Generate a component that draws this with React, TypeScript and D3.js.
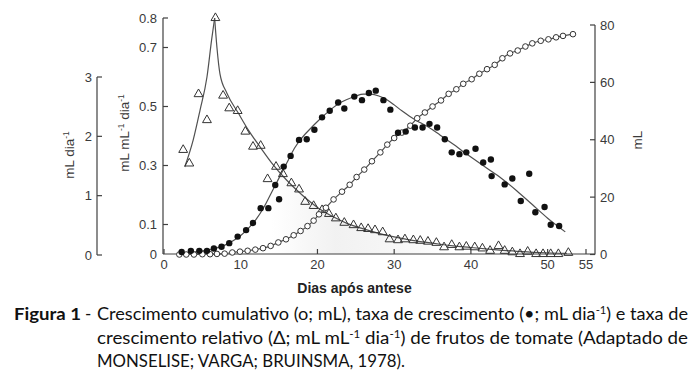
import React from "react";
import * as d3 from "d3";

// ---- Data ----
// Cumulative growth (open circles, mL, right axis)
const cumDays = [2.0, 2.9, 3.9, 5.0, 6.0, 6.9, 7.9, 8.9, 9.9, 10.9, 11.9, 12.9, 13.9, 14.9, 15.9, 16.9, 17.8, 18.7, 19.5, 20.2, 21.1, 22.1, 23.2, 24.2, 25.1, 26.1, 27.1, 28.2, 29.1, 30.0, 31.0, 32.1, 33.0, 34.0, 35.0, 36.1, 37.1, 38.1, 39.0, 40.1, 41.1, 42.1, 43.1, 44.1, 45.1, 46.1, 47.1, 48.0, 49.1, 50.1, 51.1, 52.0, 53.3];
const cumValues = [0, 0, 0, 0.1, 0.1, 0.2, 0.3, 0.7, 1.0, 1.3, 1.7, 2.2, 3.0, 4.2, 5.3, 6.7, 8.2, 9.9, 11.8, 14.0, 16.3, 19.2, 21.9, 24.3, 27.0, 29.6, 32.5, 35.6, 38.3, 40.6, 42.5, 44.9, 47.5, 49.5, 51.6, 53.7, 56.0, 57.6, 59.5, 61.1, 63.0, 64.6, 66.1, 68.4, 70.1, 71.1, 72.5, 73.6, 74.5, 75.0, 75.7, 76.2, 76.8];

// Growth rate (filled circles, mL dia-1)
const rateDays = [2.3, 3.5, 4.6, 5.6, 6.5, 7.5, 8.5, 9.6, 10.7, 11.6, 12.6, 13.6, 14.5, 15.0, 15.6, 16.5, 17.6, 18.6, 19.6, 20.6, 21.6, 22.7, 23.5, 24.8, 25.8, 26.7, 27.6, 28.6, 29.5, 30.5, 31.5, 32.7, 33.7, 34.6, 35.6, 36.6, 37.5, 38.5, 39.4, 40.6, 41.6, 42.6, 42.7, 44.4, 45.4, 46.5, 47.6, 48.4, 49.6, 50.4, 51.5];
const rateValues = [0.05, 0.07, 0.07, 0.07, 0.11, 0.14, 0.2, 0.31, 0.42, 0.54, 0.79, 0.79, 1.18, 0.94, 1.49, 1.67, 1.94, 1.95, 2.11, 2.32, 2.43, 2.57, 2.47, 2.67, 2.61, 2.73, 2.77, 2.61, 2.45, 2.06, 2.08, 2.15, 2.15, 2.21, 2.15, 1.95, 1.73, 1.7, 1.73, 1.79, 1.56, 1.61, 1.33, 1.19, 1.29, 0.91, 1.37, 0.72, 0.81, 0.51, 0.49];
// fitted curve for growth rate
const rateFitDays = [2.3, 4, 6, 8, 9, 10, 11, 12, 13, 14, 15, 16, 17, 18, 19, 20, 21, 22, 23, 24, 25, 26, 27, 28, 29, 30, 31, 32, 33, 34, 35, 36, 37, 38, 39, 40, 42, 44, 46, 48, 50, 52.3];
const rateFitValues = [0.03, 0.05, 0.09, 0.17, 0.24, 0.33, 0.45, 0.6, 0.8, 1.05, 1.3, 1.55, 1.8, 1.98, 2.12, 2.25, 2.37, 2.48, 2.57, 2.63, 2.68, 2.71, 2.71, 2.68, 2.62, 2.53, 2.43, 2.34, 2.26, 2.19, 2.11, 2.02, 1.93, 1.84, 1.74, 1.65, 1.47, 1.29, 1.08, 0.85, 0.62, 0.39];

// Relative growth rate (triangles, mL mL-1 dia-1)
const relDays = [2.5, 3.3, 4.5, 5.6, 6.7, 7.7, 8.5, 9.6, 10.6, 11.6, 12.6, 13.5, 14.6, 15.5, 16.6, 17.6, 18.4, 19.5, 20.6, 21.5, 22.4, 23.5, 24.7, 25.7, 26.6, 27.5, 28.5, 29.4, 30.5, 31.4, 32.5, 33.4, 34.4, 35.5, 36.5, 37.5, 38.5, 39.4, 40.5, 41.5, 42.5, 43.6, 44.4, 45.4, 46.4, 47.4, 48.5, 49.4, 50.4, 51.4, 52.7];
const relValues = [0.353, 0.307, 0.542, 0.454, 0.8, 0.537, 0.494, 0.485, 0.415, 0.364, 0.367, 0.254, 0.296, 0.271, 0.24, 0.219, 0.177, 0.163, 0.149, 0.136, 0.121, 0.106, 0.098, 0.088, 0.085, 0.081, 0.074, 0.05, 0.047, 0.05, 0.047, 0.045, 0.042, 0.038, 0.023, 0.031, 0.023, 0.025, 0.023, 0.019, 0.011, 0.027, 0.011, 0.006, 0.0, 0.008, 0.0, 0.0, 0.0, 0.0, 0.004];
// fitted curve (rising / falling branch)
const relRiseDays = [2.7, 3.8, 4.7, 5.6, 6.2, 6.6];
const relRiseValues = [0.295, 0.386, 0.488, 0.6, 0.725, 0.8];
const relFallDays = [6.6, 6.9, 7.3, 8.2, 9.7, 11, 12.6, 14, 16, 18, 20, 22, 24, 26, 28, 30, 32, 34, 36, 38, 40, 43, 46, 49, 52.5];
const relFallValues = [0.8, 0.7, 0.61, 0.545, 0.477, 0.42, 0.36, 0.31, 0.25, 0.2, 0.158, 0.127, 0.102, 0.085, 0.07, 0.058, 0.048, 0.04, 0.033, 0.027, 0.022, 0.015, 0.009, 0.005, 0.002];

// Tick labels
const xTicks = [0, 10, 20, 30, 40, 50, 55];
const rateTicks = [0, 1, 2, 3];
const relTicks = [0.1, 0.3, 0.5, 0.7, 0.8];
const relTickLabels = ["0.1", "0.3", "0.5", "0.7", "0.8"];
const cumTicks = [0, 20, 40, 60, 80];

const AX = "#404040";
const TXT = "#3a3a3a";
const FONT = "'Liberation Sans', Arial, Helvetica, sans-serif";
const CAP = "Lato, 'Open Sans', sans-serif";

export default function App() {
  const x = d3.scaleLinear().domain([0, 55]).range([164, 586]);
  const yCum = d3.scaleLinear().domain([0, 80]).range([254.5, 25]);
  const yRel = d3.scaleLinear().domain([0, 0.8]).range([254, 18]);
  const yRate = d3.scaleLinear().domain([0, 3]).range([255, 77]);

  const pairs = (a: number[], b: number[]) => a.map((d, i) => [d, b[i]] as [number, number]);
  const cum = pairs(cumDays, cumValues);
  const rate = pairs(rateDays, rateValues);
  const rateFit = pairs(rateFitDays, rateFitValues);
  const rel = pairs(relDays, relValues);
  const relRise = pairs(relRiseDays, relRiseValues);
  const relFall = pairs(relFallDays, relFallValues);

  const lineCum = d3.line<[number, number]>().x(d => x(d[0])).y(d => yCum(d[1])).curve(d3.curveMonotoneX);
  const lineRate = d3.line<[number, number]>().x(d => x(d[0])).y(d => yRate(d[1])).curve(d3.curveMonotoneX);
  const lineRel = d3.line<[number, number]>().x(d => x(d[0])).y(d => yRel(d[1])).curve(d3.curveMonotoneX);
  const areaRel = d3.area<[number, number]>().x(d => x(d[0])).y0(yRel(0)).y1(d => yRel(d[1])).curve(d3.curveMonotoneX);
  const shadeData = relFall.filter(d => d[0] >= 14 && d[0] <= 38);

  const tri = d3.symbol().type(d3.symbolTriangle).size(34)();

  const sup = (s: string) => (
    <tspan baselineShift="super" fontSize="0.62em">{s}</tspan>
  );

  return (
    <svg width={700} height={371} style={{ position: "absolute", left: 0, top: 0, background: "#fff" }}>
      <defs>
        <linearGradient id="shade" x1="0" x2="1" y1="0" y2="0">
          <stop offset="0" stopColor="#eeeeee" stopOpacity="0" />
          <stop offset="0.35" stopColor="#eeeeee" stopOpacity="0.8" />
          <stop offset="0.7" stopColor="#eeeeee" stopOpacity="0.5" />
          <stop offset="1" stopColor="#eeeeee" stopOpacity="0" />
        </linearGradient>
      </defs>
      <rect width={700} height={371} fill="#fff" />
      <path d={areaRel(shadeData) || ""} fill="url(#shade)" />

      {/* Axes */}
      <g stroke={AX} strokeWidth={1.2} fill="none">
        {/* left-most (mL dia-1) */}
        <line x1={97} x2={97} y1={yRate(3)} y2={yRate(0)} />
        {rateTicks.map(t => (
          <line key={"rt" + t} x1={97} x2={102} y1={yRate(t)} y2={yRate(t)} />
        ))}
        {/* middle (mL mL-1 dia-1) */}
        <line x1={163} x2={163} y1={yRel(0.8)} y2={yRel(0)} />
        {relTicks.map(t => (
          <line key={"lt" + t} x1={163} x2={168} y1={yRel(t)} y2={yRel(t)} />
        ))}
        {/* right (mL) */}
        <line x1={595} x2={595} y1={yCum(80)} y2={yCum(0)} />
        {cumTicks.map(t => (
          <line key={"ct" + t} x1={590} x2={595} y1={yCum(t)} y2={yCum(t)} />
        ))}
        {/* bottom */}
        <line x1={163} x2={595} y1={254} y2={254} />
        {xTicks.map(t => (
          <line key={"xt" + t} x1={x(t)} x2={x(t)} y1={249} y2={254} />
        ))}
      </g>

      <g fontFamily={FONT} fontSize={13} fill={TXT}>
        {rateTicks.map(t => (
          <text key={"rl" + t} x={92} y={yRate(t) + 4.5} textAnchor="end">{t}</text>
        ))}
        {relTicks.map((t, i) => (
          <text key={"ll" + t} x={157} y={yRel(t) + 4.5} textAnchor="end">{relTickLabels[i]}</text>
        ))}
        <text x={157} y={yRel(0) + 4.5} textAnchor="end">0</text>
        {cumTicks.map(t => (
          <text key={"cl" + t} x={600} y={yCum(t) + 4.5}>{t}</text>
        ))}
        {xTicks.map(t => (
          <text key={"xl" + t} x={x(t)} y={268.5} textAnchor="middle">{t}</text>
        ))}
        <text x={354.5} y={293} textAnchor="middle" fontWeight="bold" fontSize={14} fill="#222">Dias após antese</text>
        <text transform="translate(74,155) rotate(-90)" textAnchor="middle" fontSize={13.5}>mL dia{sup("-1")}</text>
        <text transform="translate(129,133) rotate(-90)" textAnchor="middle" fontSize={13.5}>mL mL{sup("-1")} dia{sup("-1")}</text>
        <text transform="translate(642,140) rotate(-90)" textAnchor="middle" fontSize={13.5}>mL</text>
      </g>

      {/* Fitted curves */}
      <g fill="none" stroke="#505050" strokeWidth={1.2}>
        <path d={lineRel(relRise) || ""} />
        <path d={lineRel(relFall) || ""} />
        <path d={lineRate(rateFit) || ""} />
        <path d={lineCum(cum) || ""} />
      </g>

      {/* Points */}
      <g>
        {rel.map((d, i) => (
          <path key={"tr" + i} d={tri || ""} transform={`translate(${x(d[0])},${yRel(d[1])})`} fill="none" stroke="#333" strokeWidth={1} />
        ))}
        {cum.map((d, i) => (
          <circle key={"oc" + i} cx={x(d[0])} cy={yCum(d[1])} r={2.8} fill="#fff" stroke="#333" strokeWidth={1} />
        ))}
        {rate.map((d, i) => (
          <circle key={"fc" + i} cx={x(d[0])} cy={yRate(d[1])} r={3.2} fill="#111" />
        ))}
      </g>

      {/* Caption */}
      <g fontFamily={CAP} fontSize={17} fill="#111">
        <text x={14} y={320} fontWeight="bold" textLength={67} lengthAdjust="spacingAndGlyphs">Figura 1</text>
        <text x={85} y={320}>-</text>
        <text x={97} y={320} textLength={591} lengthAdjust="spacingAndGlyphs">
          Crescimento cumulativo (o; mL), taxa de crescimento (•; mL dia{sup("-1")}) e taxa de
        </text>
        <text x={97} y={343.5} textLength={591} lengthAdjust="spacingAndGlyphs">
          crescimento relativo (Δ; mL mL{sup("-1")} dia{sup("-1")}) de frutos de tomate (Adaptado de
        </text>
        <text x={97} y={366.5} textLength={308} lengthAdjust="spacingAndGlyphs">
          MONSELISE; VARGA; BRUINSMA, 1978).
        </text>
      </g>
    </svg>
  );
}
